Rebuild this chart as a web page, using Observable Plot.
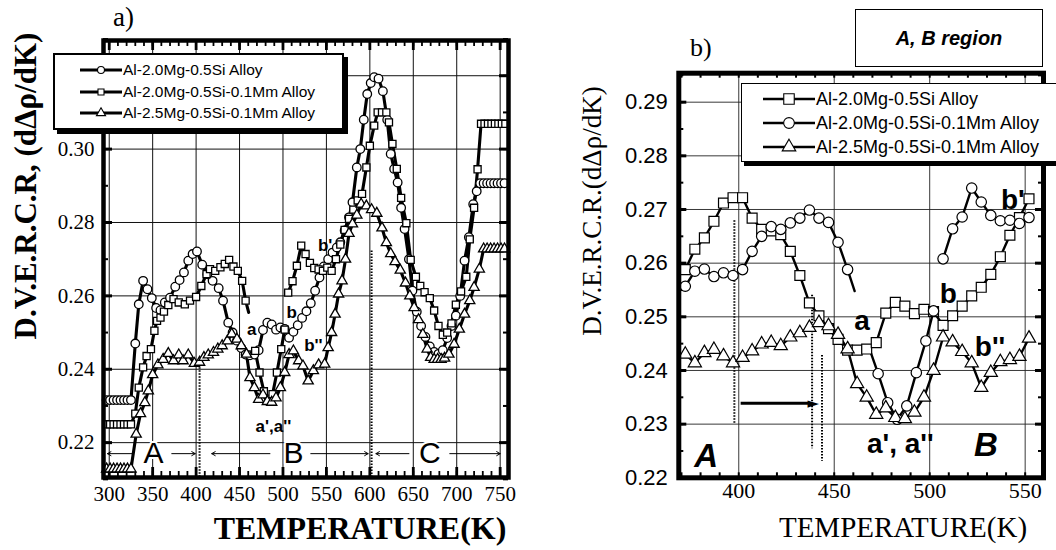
<!DOCTYPE html>
<html>
<head>
<meta charset="utf-8">
<script src="https://cdn.jsdelivr.net/npm/d3@7"></script>
<script src="https://cdn.jsdelivr.net/npm/@observablehq/plot@0.6"></script>
<style>
html,body{margin:0;padding:0;background:#fff;}
#root{position:relative;width:1056px;height:550px;overflow:hidden;background:#fff;}
.abs{position:absolute;}
.serif{font-family:"Liberation Serif","Times New Roman",serif;color:#000;}
.sans{font-family:"Liberation Sans",Arial,sans-serif;color:#000;}
.rot{transform:translate(-50%,-50%) rotate(-90deg);white-space:nowrap;}
.entry{position:absolute;white-space:nowrap;display:flex;align-items:center;}
</style>
</head>
<body>
<div id="root">
  <div id="pa" class="abs" style="left:0;top:0"></div>
  <div id="pb" class="abs" style="left:540px;top:0"></div>

  <div class="abs serif" style="left:113px;top:2px;font-size:27px;">a)</div>
  <div class="abs serif" style="left:690px;top:33px;font-size:26px;">b)</div>

  <div class="abs serif rot" style="left:26px;top:186px;font-size:31px;font-weight:bold;">D.V.E.R.C.R, (dΔρ/dK)</div>
  <div class="abs serif rot" style="left:592px;top:211px;font-size:27px;">D.V.E.R.C.R.(dΔρ/dK)</div>

  <div class="abs serif" style="left:360px;top:528px;transform:translate(-50%,-50%);font-size:32px;font-weight:bold;white-space:nowrap;">TEMPERATURE(K)</div>
  <div class="abs serif" style="left:903px;top:527px;transform:translate(-50%,-50%);font-size:29px;white-space:nowrap;">TEMPERATURE(K)</div>

  <div class="abs sans" style="left:855px;top:9px;width:186px;height:56px;border:1.5px solid #000;background:#fff;display:flex;align-items:center;justify-content:center;font-size:20px;font-weight:bold;font-style:italic;">A, B region</div>

  <div id="legA" class="abs sans" style="left:53px;top:53px;width:287px;height:73px;border:2px solid #000;background:#fff;box-shadow:4px 4px 0 #000;"></div>
  <div id="legB" class="abs sans" style="left:741px;top:83px;width:340px;height:77px;border:1.5px solid #000;background:#fff;box-shadow:3px 4px 0 #000;"></div>
</div>
<script>
// ---------------- legend names ----------------
const seriesNames = ["Al-2.0Mg-0.5Si Alloy", "Al-2.0Mg-0.5Si-0.1Mm Alloy", "Al-2.5Mg-0.5Si-0.1Mm Alloy"];
const aSymbols = ["circle", "square", "triangle"];
const bSymbols = ["square", "circle", "triangle"];

// ---------------- panel a : ticks ----------------
const aTickT = [300, 350, 400, 450, 500, 550, 600, 650, 700, 750];
const aTickV = [0.22, 0.24, 0.26, 0.28, 0.30];
const aGridV = [0.22, 0.24, 0.26, 0.28, 0.30, 0.32];

// ---------------- panel a : Al-2.0Mg-0.5Si (circles) ----------------
const aCircT = [297,301,305,309,313,317,321,325,330,334,339,344,349,354,359,364,370,376,381,386,391,396,401,407,413,419,426,431,437,442,447,452,457,462,467,472,477,482,487,492,497,502,507,512,517,522,527,532,537,542,547,552,557,562,566,571,576,580,585,589,593,597,601,605,610,615,620,624,628,632,636,640,645,649,654,659,664,669,674,679,684,689,694,699,704,709,714,719,723,727,731,735,739,743,747,751,755];
const aCircV = [0.2316,0.2316,0.2316,0.2316,0.2316,0.2316,0.2316,0.2316,0.2470,0.2577,0.2641,0.2618,0.2594,0.2567,0.2561,0.2582,0.2595,0.2625,0.2643,0.2664,0.2696,0.2714,0.2721,0.2685,0.2659,0.2641,0.2621,0.2587,0.2527,0.2500,0.2478,0.2458,0.2440,0.2438,0.2440,0.2452,0.2507,0.2527,0.2522,0.2508,0.2514,0.2510,0.2486,0.2502,0.2520,0.2540,0.2558,0.2580,0.2614,0.2650,0.2680,0.2700,0.2718,0.2732,0.2746,0.2778,0.2814,0.2855,0.2950,0.3000,0.3080,0.3150,0.3180,0.3196,0.3192,0.3158,0.3080,0.2987,0.2946,0.2909,0.2840,0.2782,0.2700,0.2614,0.2557,0.2518,0.2488,0.2462,0.2447,0.2442,0.2452,0.2485,0.2518,0.2546,0.2600,0.2696,0.2760,0.2850,0.2885,0.2907,0.2907,0.2907,0.2907,0.2907,0.2907,0.2907,0.2907];

// ---------------- panel a : Al-2.0Mg-0.5Si-0.1Mm (squares), NaN = gap ----------------
const aSqT = [297,301,305,309,313,317,321,325,330,334,339,343,348,352,355,359,363,368,374,380,387,393,400,406,412,416,422,428,433,438,443,448,453,457,460.5,464,468,473,478,483,488,493,498,502,504,506,511,516,521,526,531,536,541,546,551,556,561,566,571,576,581,586,591,596,600,605,609,614,619,622,626,631,636,642,647,653,658,663,669,674,679,684,689,694,699,705,711,715,720,724,728,732,736,740,744,748,752,756];
const aSqV = [0.2250,0.2250,0.2250,0.2250,0.2250,0.2250,0.2250,0.2250,0.2279,0.2350,0.2405,0.2436,0.2455,0.2505,0.2532,0.2541,0.2557,0.2575,0.2591,0.2582,0.2577,0.2587,0.2597,0.2627,0.2659,0.2673,0.2668,0.2678,0.2687,0.2698,0.2680,0.2668,0.2641,0.2587,0.2555,NaN,0.2450,0.2391,0.2340,0.2320,0.2332,0.2391,0.2455,0.2508,NaN,0.2609,0.2640,0.2682,0.2737,0.2714,0.2690,0.2676,0.2672,0.2668,0.2677,0.2668,0.2700,0.2740,0.2780,0.2810,0.2835,0.2860,0.2878,0.2950,0.3009,0.3064,0.3100,0.3100,0.3100,0.3073,0.3014,0.2946,0.2867,0.2798,0.2698,0.2652,0.2627,0.2610,0.2594,0.2560,0.2518,0.2494,0.2500,0.2525,0.2576,0.2612,0.2652,0.2754,0.2840,0.2945,0.3069,0.3069,0.3069,0.3069,0.3069,0.3069,0.3069,0.3069];
const aSqTails = [460.5];

// ---------------- panel a : Al-2.5Mg-0.5Si-0.1Mm (triangles) ----------------
const aTriT = [297,301,305,309,313,317,321,325,331,336,341,345,350,356,362,368,374,380,385,391,398,404,409,414,420,425,430,436,441,447,452,458,462,467,472,477,482,487,492,497,502,507,512,518,523,529,535,541,548,552,556,560,564,568,572,576,580,585,590,596,602,608,614,619,624,629,635,641,646,651,656,661,666,670,674,678,682,686,691,697,703,709,715,720,726,731,735,739,743,747,751,755];
const aTriV = [0.2128,0.2128,0.2128,0.2128,0.2128,0.2128,0.2128,0.2128,0.2223,0.2279,0.2309,0.2341,0.2385,0.2412,0.2427,0.2443,0.2423,0.2439,0.2423,0.2439,0.2416,0.2419,0.2432,0.2439,0.2446,0.2455,0.2464,0.2477,0.2496,0.2482,0.2464,0.2441,0.2377,0.2350,0.2318,0.2330,0.2312,0.2310,0.2322,0.2350,0.2391,0.2440,0.2450,0.2423,0.2409,0.2368,0.2396,0.2412,0.2414,0.2459,0.2500,0.2550,0.2605,0.2641,0.2700,0.2770,0.2796,0.2820,0.2850,0.2845,0.2835,0.2825,0.2785,0.2745,0.2715,0.2693,0.2670,0.2635,0.2600,0.2568,0.2535,0.2495,0.2455,0.2432,0.2427,0.2427,0.2427,0.2430,0.2441,0.2468,0.2509,0.2550,0.2587,0.2623,0.2673,0.2728,0.2728,0.2728,0.2728,0.2728,0.2728,0.2728];

// ---------------- panel a : annotations ----------------
const aNoteT = [464, 510, 548.5, 535, 489];
const aNoteV = [0.2509, 0.2555, 0.2737, 0.2464, 0.2245];
const aNoteS = ["a", "b", "b'", "b''", "a',a''"];
const aRegionT = [351, 512, 669];
const aRegionS = ["A", "B", "C"];
const aRegionV = 0.2170;
const aArrowFrom = [327, 372, 485, 532, 645, 692];
const aArrowTo = [298, 399, 418, 598, 607, 750];
const aDotT = [404, 602];
const aDotTop = [0.2412, 0.2722];

// ---------------- panel b : ticks ----------------
const bTickT = [400, 450, 500, 550];
const bTickV = [0.22, 0.23, 0.24, 0.25, 0.26, 0.27, 0.28, 0.29];

// ---------------- panel b : Al-2.0Mg-0.5Si (squares) ----------------
const bSqT = [372,377,382,387,392,397,402,407,412,417,422,427,432,437,442,447,452,457,462,467,472,477,482,487,492,497,502,507,512,517,522,527,532,537,542,547,552];
const bSqV = [0.2588,0.2626,0.2647,0.2678,0.2712,0.2722,0.2722,0.2684,0.2663,0.2660,0.2653,0.2622,0.2577,0.2526,0.2502,0.2478,0.2458,0.2438,0.2438,0.2440,0.2452,0.2507,0.2527,0.2520,0.2506,0.2514,0.2510,0.2484,0.2502,0.2520,0.2539,0.2555,0.2579,0.2612,0.2652,0.2685,0.2720];

// ---------------- panel b : Al-2.0Mg-0.5Si-0.1Mm (circles), NaN = gap ----------------
const bCircT = [372,377,382,387,392,397,402,407,412,417,422,427,432,437,442,447,452,457,460.7,464,468,473,478,483,488,493,498,502,504.5,507,512,517,522,527,532,537,542,547,552];
const bCircV = [0.2557,0.2585,0.2589,0.2575,0.2582,0.2577,0.2588,0.2622,0.2650,0.2668,0.2663,0.2675,0.2684,0.2699,0.2684,0.2676,0.2639,0.2588,0.2548,NaN,0.2445,0.2394,0.2340,0.2309,0.2334,0.2396,0.2455,0.2511,NaN,0.2608,0.2664,0.2686,0.2740,0.2714,0.2689,0.2679,0.2680,0.2674,0.2685];
const bCircTails = [460.7, 468];

// ---------------- panel b : Al-2.5Mg-0.5Si-0.1Mm (triangles) ----------------
const bTriT = [372,377,382,387,392,397,402,407,412,417,422,427,432,437,442,447,452,457,462,467,472,477,482,487,492,497,502,507,512,517,522,527,532,537,542,547,552];
const bTriV = [0.2430,0.2414,0.2433,0.2439,0.2427,0.2414,0.2424,0.2436,0.2449,0.2452,0.2446,0.2462,0.2470,0.2480,0.2489,0.2483,0.2467,0.2440,0.2375,0.2350,0.2318,0.2330,0.2312,0.2310,0.2322,0.2350,0.2400,0.2462,0.2453,0.2435,0.2414,0.2368,0.2396,0.2416,0.2420,0.2426,0.2460];

// ---------------- panel b : annotations ----------------
const bNoteT = [464.5, 509.8, 543.5, 531.6, 484.6];
const bNoteV = [0.2493, 0.2543, 0.2717, 0.2444, 0.2263];
const bNoteS = ["a", "b", "b'", "b''", "a', a''"];
const bRegionT = [383, 529.5];
const bRegionV = [0.2239, 0.2260];
const bRegionS = ["A", "B"];
const bDotT = [397.7, 438.4, 443.6];
const bDotTop = [0.2679, 0.2540, 0.2428];
const bDotBottom = [0.2301, 0.2254, 0.2231];
const bArrowFrom = [401];
const bArrowTo = [441];
const bArrowV = 0.2339;

// ---------------- helpers ----------------
function rows(T, V, tails = []) {
  return T.map((t, i) => ({t, v: V[i], tail: tails.includes(t)}));
}
function dotsOf(r) { return r.filter(d => !d.tail && Number.isFinite(d.v)); }

const SERIF = "Liberation Serif, Times New Roman, serif";
const SANS = "Liberation Sans, Arial, sans-serif";

// ============ Panel a ============
{
  const W = 540, H = 550, mL = 103, mR = 32, mT = 40, mB = 73;
  const iW = W - mL - mR, iH = H - mT - mB;
  const circ = rows(aCircT, aCircV);
  const sq = rows(aSqT, aSqV, aSqTails);
  const tri = rows(aTriT, aTriV);
  const minorT = d3.range(300, 760, 10);
  const minorV = d3.range(0.21, 0.331, 0.01);
  const lw = 3.1;
  const plot = Plot.plot({
    width: W, height: H,
    marginLeft: mL, marginRight: mR, marginTop: mT, marginBottom: mB,
    x: {domain: [293.4, 759.6], label: null},
    y: {domain: [0.2105, 0.3296], label: null},
    style: {background: "transparent", color: "#000", fontFamily: SERIF},
    marks: [
      Plot.ruleX(aTickT, {stroke: "#111", strokeWidth: 1}),
      Plot.ruleY(aGridV, {stroke: "#111", strokeWidth: 1}),
      // inward ticks
      Plot.ruleX(minorT, {insetBottom: iH - 6, stroke: "#000", strokeWidth: 1.8}),
      Plot.ruleX(aTickT, {insetBottom: iH - 10, stroke: "#000", strokeWidth: 2.8}),
      Plot.ruleX(minorT, {insetTop: iH - 6, stroke: "#000", strokeWidth: 1.8}),
      Plot.ruleX(aTickT, {insetTop: iH - 10, stroke: "#000", strokeWidth: 2.8}),
      Plot.ruleY(minorV, {insetRight: iW - 5, stroke: "#000", strokeWidth: 2}),
      Plot.ruleY(aGridV, {insetRight: iW - 9, stroke: "#000", strokeWidth: 3}),
      Plot.ruleY(minorV, {insetLeft: iW - 5, stroke: "#000", strokeWidth: 2}),
      Plot.ruleY(aGridV, {insetLeft: iW - 9, stroke: "#000", strokeWidth: 3}),
      // dotted region separators
      Plot.ruleX(aDotT, {x: d => d, y1: (d, i) => aDotTop[i], y2: 0.2105, stroke: "#000", strokeWidth: 2, strokeDasharray: "1.5,1.5"}),
      // series lines
      Plot.line(circ, {x: "t", y: "v", stroke: "#000", strokeWidth: lw}),
      Plot.line(sq, {x: "t", y: "v", stroke: "#000", strokeWidth: lw}),
      Plot.line(tri, {x: "t", y: "v", stroke: "#000", strokeWidth: lw}),
      Plot.dot(dotsOf(circ), {x: "t", y: "v", symbol: "circle", r: 4.3, fill: "#fff", stroke: "#000", strokeWidth: 1.3}),
      Plot.dot(dotsOf(sq), {x: "t", y: "v", symbol: "square", r: 4, fill: "#fff", stroke: "#000", strokeWidth: 1.3}),
      Plot.dot(dotsOf(tri), {x: "t", y: "v", symbol: "triangle", r: 3.8, fill: "#fff", stroke: "#000", strokeWidth: 1.3}),
      // labels
      Plot.text(aNoteS, {x: (d, i) => aNoteT[i], y: (d, i) => aNoteV[i], text: d => d, fontFamily: SANS, fontWeight: "bold", fontSize: 17, fill: "#000"}),
      Plot.arrow(aArrowFrom, {x1: d => d, x2: (d, i) => aArrowTo[i], y1: aRegionV, y2: aRegionV, stroke: "#000", strokeWidth: 1, headLength: 6}),
      Plot.text(aRegionS, {x: (d, i) => aRegionT[i], y: aRegionV, text: d => d, fontFamily: SANS, fontSize: 30, fill: "#000", stroke: "#fff", strokeWidth: 4}),
      Plot.frame({stroke: "#000", strokeWidth: 4.5}),
      Plot.axisX(aTickT, {anchor: "bottom", tickSize: 0, tickPadding: 9, fontSize: 21, fontFamily: SERIF, label: null}),
      Plot.axisY(aTickV, {anchor: "left", tickSize: 0, tickPadding: 9, fontSize: 21, fontFamily: SERIF, tickFormat: d3.format(".2f"), label: null})
    ]
  });
  document.getElementById("pa").appendChild(plot);
}

// ============ Panel b ============
{
  const W = 516, H = 550, mL = 138.3, mR = 13, mT = 72.7, mB = 72.7;
  const iW = W - mL - mR, iH = H - mT - mB;
  const sq = rows(bSqT, bSqV);
  const circ = rows(bCircT, bCircV, bCircTails);
  const tri = rows(bTriT, bTriV);
  const minorT = d3.range(370, 560, 10);
  const minorV = d3.range(0.22, 0.2951, 0.005);
  const lw = 2.4;
  const plot = Plot.plot({
    width: W, height: H,
    marginLeft: mL, marginRight: mR, marginTop: mT, marginBottom: mB,
    x: {domain: [368.6, 559.6], label: null},
    y: {domain: [0.22, 0.2954], label: null},
    style: {background: "transparent", color: "#000", fontFamily: SANS},
    marks: [
      Plot.ruleX(bTickT, {stroke: "#222", strokeWidth: 0.9}),
      Plot.ruleY(bTickV, {stroke: "#222", strokeWidth: 0.9}),
      Plot.ruleX(minorT, {insetBottom: iH - 5, stroke: "#000", strokeWidth: 2}),
      Plot.ruleX(minorT, {insetTop: iH - 5, stroke: "#000", strokeWidth: 2}),
      Plot.ruleY(minorV, {insetRight: iW - 5, stroke: "#000", strokeWidth: 2}),
      Plot.ruleY(bTickV, {insetRight: iW - 8, stroke: "#000", strokeWidth: 3}),
      Plot.ruleY(minorV, {insetLeft: iW - 5, stroke: "#000", strokeWidth: 2}),
      Plot.ruleY(bTickV, {insetLeft: iW - 8, stroke: "#000", strokeWidth: 3}),
      Plot.ruleX(bDotT, {x: d => d, y1: (d, i) => bDotTop[i], y2: (d, i) => bDotBottom[i], stroke: "#000", strokeWidth: 2, strokeDasharray: "1.5,1.5"}),
      // arrow: shaft + filled head
      Plot.link(bArrowFrom, {x1: d => d, x2: (d, i) => bArrowTo[i] - 4, y1: bArrowV, y2: bArrowV, stroke: "#000", strokeWidth: 3}),
      Plot.text(bArrowTo, {x: d => d, y: bArrowV, text: () => "►", textAnchor: "end", fontFamily: "DejaVu Sans", fontSize: 15, fill: "#000", dx: 2}),
      Plot.line(sq, {x: "t", y: "v", stroke: "#000", strokeWidth: lw}),
      Plot.line(circ, {x: "t", y: "v", stroke: "#000", strokeWidth: lw}),
      Plot.line(tri, {x: "t", y: "v", stroke: "#000", strokeWidth: lw}),
      Plot.dot(dotsOf(sq), {x: "t", y: "v", symbol: "square", r: 5.6, fill: "#fff", stroke: "#000", strokeWidth: 1.2}),
      Plot.dot(dotsOf(circ), {x: "t", y: "v", symbol: "circle", r: 5.2, fill: "#fff", stroke: "#000", strokeWidth: 1.2}),
      Plot.dot(dotsOf(tri), {x: "t", y: "v", symbol: "triangle", r: 4.9, fill: "#fff", stroke: "#000", strokeWidth: 1.2}),
      Plot.text(bNoteS, {x: (d, i) => bNoteT[i], y: (d, i) => bNoteV[i], text: d => d, fontFamily: SANS, fontWeight: "bold", fontSize: 28, fill: "#000"}),
      Plot.text(bRegionS, {x: (d, i) => bRegionT[i], y: (d, i) => bRegionV[i], text: d => d, fontFamily: SANS, fontWeight: "bold", fontStyle: "italic", fontSize: 33, fill: "#000"}),
      Plot.frame({stroke: "#000", strokeWidth: 5}),
      Plot.axisX(bTickT, {anchor: "bottom", tickSize: 0, tickPadding: 5, fontSize: 22, fontFamily: SERIF, label: null}),
      Plot.axisY(bTickV, {anchor: "left", tickSize: 0, tickPadding: 11, fontSize: 22, fontFamily: SANS, tickFormat: d3.format(".2f"), label: null})
    ]
  });
  document.getElementById("pb").appendChild(plot);
}

// ============ Legends ============
function legend(id, symbols, opts) {
  const box = document.getElementById(id);
  seriesNames.forEach((name, i) => {
    const e = document.createElement("div");
    e.className = "entry";
    e.style.left = opts.left + "px";
    e.style.top = (opts.rows[i] - opts.h / 2) + "px";
    e.style.height = opts.h + "px";
    e.style.fontSize = opts.fontSize + "px";
    const s = d3.create("svg").attr("width", opts.lineW).attr("height", opts.h);
    s.append("line").attr("x1", 0).attr("x2", opts.lineW).attr("y1", opts.h / 2).attr("y2", opts.h / 2)
      .attr("stroke", "#000").attr("stroke-width", opts.lw);
    const sym = {circle: d3.symbolCircle, square: d3.symbolSquare, triangle: d3.symbolTriangle}[symbols[i]];
    s.append("path").attr("d", d3.symbol(sym, opts.area[symbols[i]])())
      .attr("transform", `translate(${opts.lineW / 2},${opts.h / 2})`)
      .attr("fill", "#fff").attr("stroke", "#000").attr("stroke-width", 1.1);
    e.appendChild(s.node());
    const t = document.createElement("span");
    t.textContent = name;
    t.style.marginLeft = opts.gap + "px";
    e.appendChild(t);
    box.appendChild(e);
  });
}
legend("legA", aSymbols, {left: 25, rows: [15, 37, 58], h: 20, lineW: 42, lw: 2.8, gap: 1, fontSize: 15.5,
  area: {circle: 38, square: 36, triangle: 36}});
legend("legB", bSymbols, {left: 21, rows: [15, 39, 63], h: 24, lineW: 52, lw: 2.5, gap: 1, fontSize: 18,
  area: {circle: 90, square: 110, triangle: 80}});
</script>
</body>
</html>
